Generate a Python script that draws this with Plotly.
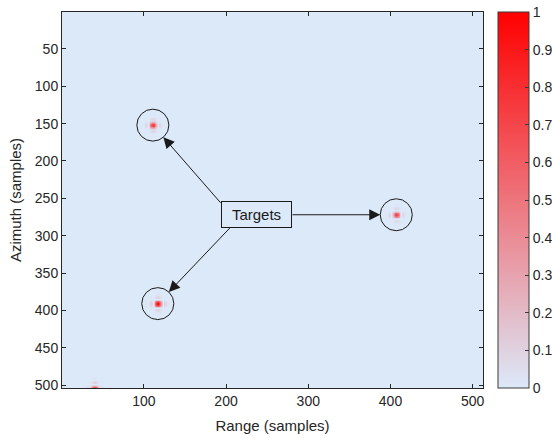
import numpy as np
import plotly.graph_objects as go

# Scene size (samples)
n_range = 512
n_azimuth = 504

# Point targets: range / azimuth position and peak amplitude
target_range = [111, 407, 117, 40]
target_azimuth = [152, 272, 391, 505]
target_amplitude = [0.75, 0.72, 1.0, 0.85]

# Targets that get an annotation circle (first three)
marked = [0, 1, 2]

# Focused point-target response: tapered separable sinc (widths in samples)
psf_width = 6.0
psf_taper = 7.5

r = np.arange(1, n_range + 1)
a = np.arange(1, n_azimuth + 1)


def response(offset):
    return np.abs(np.sinc(offset / psf_width)) * np.exp(-0.5 * (offset / psf_taper) ** 2)


image = np.zeros((n_azimuth, n_range))
for tr, ta, amp in zip(target_range, target_azimuth, target_amplitude):
    image = np.maximum(image, amp * np.outer(response(a - ta), response(r - tr)))
image = np.round(image, 3)

colorscale = [[0.0, "rgb(220,233,249)"], [1.0, "rgb(255,0,0)"]]

fig = go.Figure()
fig.add_trace(go.Heatmap(
    z=image, x=r, y=a,
    colorscale=colorscale, zmin=0, zmax=1, zsmooth="best",
    colorbar=dict(
        x=1.0356, xanchor="left", xpad=0, y=0.5, yanchor="middle", ypad=0,
        len=1, lenmode="fraction", thickness=31,
        outlinewidth=1, outlinecolor="#3a3a3a",
        tickmode="array", tickvals=[i / 10 for i in range(11)],
        ticktext=["0", "0.1", "0.2", "0.3", "0.4", "0.5", "0.6", "0.7", "0.8", "0.9", "1"],
        ticks="inside", ticklen=4, tickcolor="#3a3a3a",
        tickfont=dict(family="Liberation Sans, Arial", size=14, color="#262626"),
    ),
    hoverinfo="skip",
))

# Circle radii in data units (axes are not equally scaled)
rx, ry = 19.5, 21.4
for i in marked:
    fig.add_shape(type="circle", xref="x", yref="y",
                  x0=target_range[i] - rx, x1=target_range[i] + rx,
                  y0=target_azimuth[i] - ry, y1=target_azimuth[i] + ry,
                  line=dict(color="#1a1a1a", width=1))

# Label box and arrows from its edges to each circle
label_x, label_y = 236.5, 271
arrow_tails = [(195, 258), (279, 272), (207, 287)]
for i, (tx, ty) in zip(marked, arrow_tails):
    cx, cy = target_range[i], target_azimuth[i]
    dx, dy = (tx - cx) / rx, (ty - cy) / ry
    d = np.hypot(dx, dy)
    hx, hy = cx + rx * dx / d, cy + ry * dy / d
    fig.add_annotation(x=hx, y=hy, ax=tx, ay=ty, xref="x", yref="y",
                       axref="x", ayref="y", text="", showarrow=True,
                       arrowhead=2, arrowsize=2.2, arrowwidth=1,
                       arrowcolor="#1a1a1a", standoff=0, startstandoff=0)

fig.add_annotation(x=label_x, y=label_y, xref="x", yref="y", text="Targets",
                   showarrow=False, bordercolor="#1a1a1a", borderwidth=1,
                   borderpad=4, bgcolor="rgba(0,0,0,0)", width=61,
                   font=dict(family="Liberation Sans, Arial", size=15, color="#1a1a1a"))

axis_common = dict(
    showline=True, linecolor="#262626", linewidth=1, mirror="ticks",
    ticks="inside", ticklen=4, tickcolor="#262626", showgrid=False, zeroline=False,
    tickfont=dict(family="Liberation Sans, Arial", size=14, color="#262626"),
)

fig.update_layout(
    width=552, height=439,
    margin=dict(l=62, r=69, t=12, b=51, autoexpand=False),
    paper_bgcolor="white", plot_bgcolor="rgb(220,233,249)",
    xaxis=dict(range=[0.5, n_range + 0.5], tickvals=[100, 200, 300, 400, 500],
               title=dict(text="Range (samples)", standoff=12,
                          font=dict(family="Liberation Sans, Arial", size=15, color="#262626")),
               **axis_common),
    yaxis=dict(range=[n_azimuth, 0.5], tickvals=list(range(50, 501, 50)),
               title=dict(text="Azimuth (samples)", standoff=9,
                          font=dict(family="Liberation Sans, Arial", size=15, color="#262626")),
               **axis_common),
)

fig.write_html("out.html")
